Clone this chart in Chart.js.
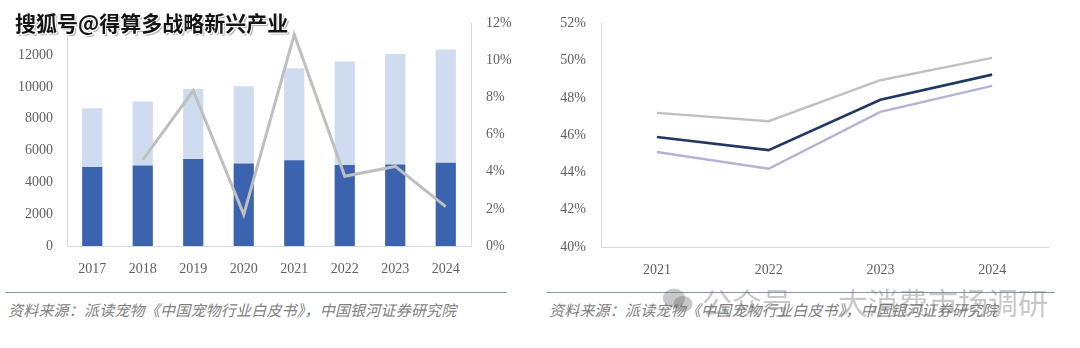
<!DOCTYPE html>
<html lang="zh-CN">
<head>
<meta charset="utf-8">
<script src="https://cdn.jsdelivr.net/npm/chart.js@4.4.1/dist/chart.umd.min.js"></script>
<style>
  html, body { margin: 0; padding: 0; background: #fff; }
  body { width: 1080px; height: 348px; position: relative; overflow: hidden; }
  canvas { position: absolute; top: 0; }
  #left { left: 0; }
  #right { left: 540px; }
  .rule { position: absolute; top: 292px; height: 0; border-top: 1.5px solid #8497b0; }
  .source {
    position: absolute; top: 300px; font-family: "Noto Sans CJK SC", sans-serif;
    font-style: italic; font-size: 15px; color: #808080; white-space: nowrap; line-height: 20px;
    letter-spacing: 0.2px;
  }
  .stamp {
    position: absolute; left: 15px; top: 9px; font-family: "Noto Sans CJK SC", sans-serif;
    font-weight: bold; font-size: 21px; line-height: 26px; color: #141414; white-space: nowrap;
    text-shadow: 1px 1px 0 #fff, -1px -1px 0 #fff, 1px -1px 0 #fff, -1px 1px 0 #fff, 2px 2px 1px #aaa;
    z-index: 5;
  }
  .mark {
    position: absolute; top: 283px; left: 662px; font-family: "Noto Sans CJK SC", sans-serif;
    font-size: 30px; line-height: 36px; color: rgba(110,110,110,0.38); white-space: nowrap; z-index: 5;
    display: flex; align-items: center;
  }
  .mark svg { margin-right: 8px; }
  .mark .gap { display: inline-block; width: 46px; }
</style>
</head>
<body>
<canvas id="left" width="540" height="290"></canvas>
<canvas id="right" width="540" height="290"></canvas>

<div class="rule" style="left:5px; width:502px;"></div>
<div class="rule" style="left:547px; width:508px;"></div>
<div class="source" style="left:8px;">资料来源：派读宠物《中国宠物行业白皮书》，中国银河证券研究院</div>
<div class="source" style="left:549px;">资料来源：派读宠物《中国宠物行业白皮书》，中国银河证券研究院</div>

<div class="stamp">搜狐号@得算多战略新兴产业</div>
<div class="mark">
  <svg width="32" height="28" viewBox="0 0 32 28">
    <ellipse cx="12" cy="11" rx="11" ry="9.5" fill="rgba(110,110,110,0.38)"/>
    <ellipse cx="21" cy="17" rx="9.5" ry="8" fill="rgba(110,110,110,0.38)"/>
  </svg>
  <span>公众号</span><span class="gap"></span><span>大消费市场调研</span>
</div>

<script>
// Market size by year (two stacked components) and year-on-year growth
const years = ['2017', '2018', '2019', '2020', '2021', '2022', '2023', '2024'];
const baseValues = [4970, 5070, 5470, 5190, 5390, 5090, 5130, 5230];
const upperValues = [3700, 4020, 4400, 4850, 5790, 6510, 6950, 7130];
const growthRates = [null, 4.64, 8.38, 1.69, 11.4, 3.76, 4.29, 2.12];

// Share series, 2021-2024
const shareYears = ['2021', '2022', '2023', '2024'];
const shareGray = [47.2, 46.75, 48.95, 50.15];
const shareNavy = [45.9, 45.2, 47.9, 49.25];
const shareLavender = [45.1, 44.2, 47.25, 48.65];

// Axis ranges
const sizeAxis = { min: 0, max: 14000, step: 2000 };
const growthAxis = { min: 0, max: 12, step: 2 };
const shareAxis = { min: 40, max: 52, step: 2 };

const tickFont = { family: '"Liberation Serif", "DejaVu Serif", serif', size: 14 };
const tickColor = '#5f5f5f';
const axisLine = '#d9d9d9';

Chart.defaults.animation = false;
Chart.defaults.responsive = false;
Chart.defaults.devicePixelRatio = 1;
Chart.defaults.plugins.legend.display = false;
Chart.defaults.plugins.tooltip.enabled = false;

const pct = v => v + '%';
const plain = v => String(v);

new Chart(document.getElementById('left'), {
  type: 'bar',
  data: {
    labels: years,
    datasets: [
      { type: 'line', data: growthRates, yAxisID: 'y1', order: 0,
        borderColor: '#bfbfbf', borderWidth: 3, pointRadius: 0, tension: 0, spanGaps: false },
      { data: baseValues, backgroundColor: '#3b63ae', order: 1, stack: 's',
        barPercentage: 0.4, categoryPercentage: 1 },
      { data: upperValues, backgroundColor: '#cfdbee', order: 2, stack: 's',
        barPercentage: 0.4, categoryPercentage: 1 }
    ]
  },
  options: {
    layout: { padding: { top: 15, left: 0, right: 0, bottom: 0 } },
    scales: {
      x: {
        stacked: true,
        grid: { display: false, drawTicks: false },
        border: { display: true, color: axisLine, width: 1 },
        ticks: { font: tickFont, color: tickColor, padding: 15, maxRotation: 0 },
        afterFit: s => { s.height = 44; }
      },
      y: {
        stacked: true, min: sizeAxis.min, max: sizeAxis.max,
        grid: { display: false, drawTicks: false },
        border: { display: true, color: axisLine, width: 1 },
        ticks: { stepSize: sizeAxis.step, font: tickFont, color: tickColor, padding: 14, callback: plain },
        afterFit: s => { s.width = 67; }
      },
      y1: {
        position: 'right', min: growthAxis.min, max: growthAxis.max,
        grid: { display: false, drawTicks: false },
        border: { display: true, color: axisLine, width: 1 },
        ticks: { stepSize: growthAxis.step, font: tickFont, color: tickColor, padding: 15, callback: pct },
        afterFit: s => { s.width = 69; }
      }
    }
  }
});

const shareLine = (data, color, width) => ({
  data, borderColor: color, borderWidth: width, pointRadius: 0, tension: 0, fill: false
});

new Chart(document.getElementById('right'), {
  type: 'line',
  data: {
    labels: shareYears,
    datasets: [
      shareLine(shareNavy, '#1f3864', 2.6),
      shareLine(shareGray, '#c0c0c0', 2.4),
      shareLine(shareLavender, '#b6b2d3', 2.4)
    ]
  },
  options: {
    layout: { padding: { top: 15, left: 0, right: 32, bottom: 0 } },
    scales: {
      x: {
        offset: true,
        grid: { display: false, drawTicks: false },
        border: { display: true, color: axisLine, width: 1 },
        ticks: { font: tickFont, color: tickColor, padding: 15, maxRotation: 0 },
        afterFit: s => { s.height = 43; }
      },
      y: {
        min: shareAxis.min, max: shareAxis.max,
        grid: { display: false, drawTicks: false },
        border: { display: true, color: axisLine, width: 1 },
        ticks: { stepSize: shareAxis.step, font: tickFont, color: tickColor, padding: 15, callback: pct },
        afterFit: s => { s.width = 61; }
      }
    }
  }
});
</script>
</body>
</html>
